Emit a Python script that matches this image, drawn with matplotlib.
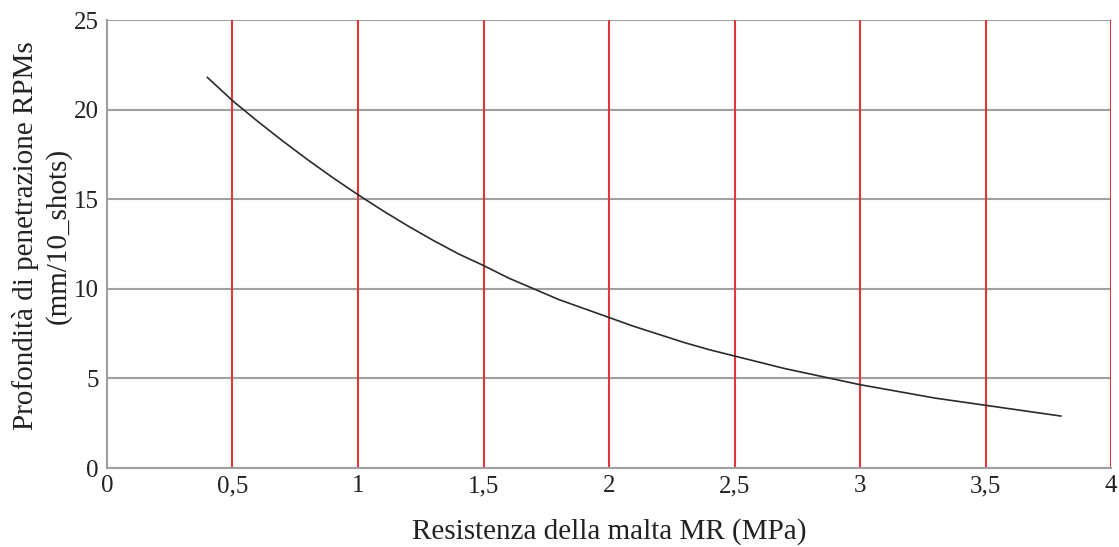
import matplotlib
matplotlib.use("Agg")
import matplotlib.pyplot as plt

plt.rcParams['font.family'] = ['Liberation Serif', 'DejaVu Serif']

mr = [0.4, 0.5, 0.6, 0.7, 0.8, 0.9, 1.0, 1.1, 1.2, 1.3, 1.4, 1.5, 1.6, 1.7,
      1.8, 1.9, 2.0, 2.1, 2.2, 2.3, 2.4, 2.5, 2.6, 2.7, 2.8, 2.9, 3.0, 3.1,
      3.2, 3.3, 3.4, 3.5, 3.6, 3.7, 3.8]
depth = [21.8, 20.5, 19.35, 18.25, 17.2, 16.2, 15.25, 14.35, 13.5, 12.7, 11.95,
         11.3, 10.6, 10.0, 9.4, 8.9, 8.4, 7.9, 7.45, 7.0, 6.6, 6.25, 5.9, 5.55,
         5.25, 4.95, 4.65, 4.4, 4.15, 3.9, 3.7, 3.5, 3.3, 3.1, 2.9]

xticks = [0, 0.5, 1, 1.5, 2, 2.5, 3, 3.5, 4]
xticklabels = ["0", "0,5", "1", "1,5", "2", "2,5", "3", "3,5", "4"]
yticks = [0, 5, 10, 15, 20, 25]

fig = plt.figure(figsize=(11.19, 5.47), dpi=100)
ax = fig.add_axes([0.0956, 0.1444, 0.8973, 0.819])

for y in yticks:
    ax.axhline(y, color='#a0a0a0', lw=1.5, zorder=1)
for x in xticks[1:]:
    ax.axvline(x, color='#e0383a', lw=1.5, zorder=2)

ax.plot(mr, depth, color='#2a2a2a', lw=1.2, zorder=3)

ax.set_xlim(0, 4)
ax.set_ylim(0, 25)
ax.set_xticks(xticks)
ax.set_xticklabels(xticklabels)
ax.set_yticks(yticks)
ax.tick_params(length=0, labelsize=18, colors='#222222')
ax.tick_params(axis='x', pad=5)
ax.tick_params(axis='y', pad=6)
for s in ['top', 'right']:
    ax.spines[s].set_visible(False)
for s in ['left', 'bottom']:
    ax.spines[s].set_color('#a0a0a0')
    ax.spines[s].set_linewidth(1.5)

ax.set_xlabel("Resistenza della malta MR (MPa)", fontsize=21, color='#222222', labelpad=15)
ax.set_ylabel("Profondità di penetrazione RPMs\n(mm/10_shots)", fontsize=21,
              color='#222222', linespacing=1.3)
ax.yaxis.set_label_coords(-0.035, 0.518)

fig.savefig("out.png", dpi=100)
